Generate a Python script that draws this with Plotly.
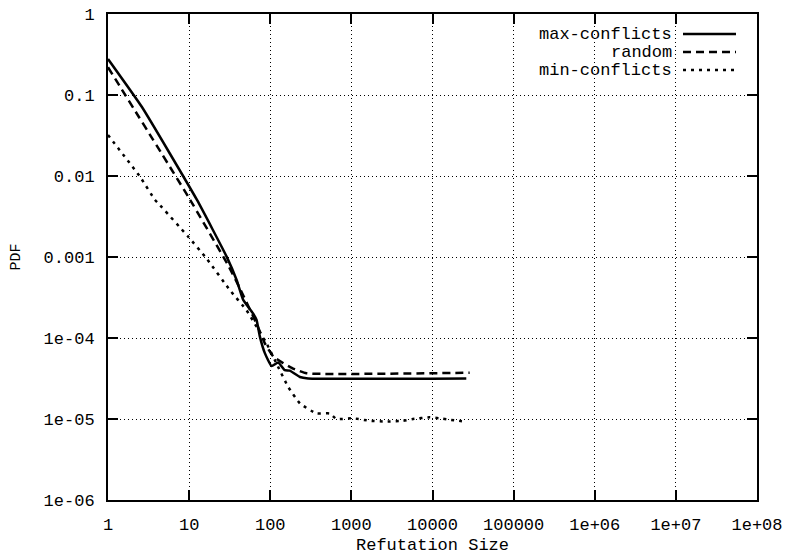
import plotly.graph_objects as go

# ---- data ----
max_x = [1, 2.62, 12.5, 29, 38.5, 46.4, 61.6, 67.8, 74.5, 85.8, 104, 125, 151, 174, 232, 293, 26100]
max_y = [0.278, 0.071, 0.00506, 0.00101, 5.2e-4, 2.95e-4, 2.0e-4, 1.67e-4, 1.04e-4, 6.5e-5, 4.5e-5, 5.0e-5, 4.0e-5, 3.95e-5, 3.3e-5, 3.17e-5, 3.17e-5]

rand_x = [1, 9.75, 30.3, 42.2, 67.8, 85.8, 109, 144, 191, 280, 28700]
rand_y = [0.22, 0.00556, 7.9e-4, 4.1e-4, 1.5e-4, 8.6e-5, 5.9e-5, 4.9e-5, 4.2e-5, 3.67e-5, 3.73e-5]

min_x = [1, 2.48, 3.8, 4.17, 9.75, 16.4, 31.8, 51, 67.8, 90, 125, 166, 232, 372, 540, 655, 1050, 1690, 2700,
         4350, 5750, 9240, 12300, 16300, 25000]
min_y = [0.032, 0.0098, 0.00506, 0.0046, 0.00178, 9.6e-4, 3.9e-4, 2.2e-4, 1.38e-4, 8.6e-5, 4.4e-5, 2.5e-5,
         1.56e-5, 1.17e-5, 1.17e-5, 1.0e-5, 1.02e-5, 9.5e-6, 9.3e-6, 9.5e-6, 1.0e-5, 1.05e-5, 1.02e-5, 9.8e-6, 9.3e-6]

series_names = ["max-conflicts", "random", "min-conflicts"]

x_tickvals = [1, 10, 100, 1000, 10000, 100000, 1e6, 1e7, 1e8]
x_ticktext = ["1", "10", "100", "1000", "10000", "100000", "1e+06", "1e+07", "1e+08"]
y_tickvals = [1e-6, 1e-5, 1e-4, 1e-3, 1e-2, 1e-1, 1]
y_ticktext = ["1e-06", "1e-05", "1e-04", "0.001", "0.01", "0.1", "1"]

FONT = "Liberation Mono, Courier New, monospace"

x_minor = [m * 10 ** d for d in range(8) for m in (2, 5, 8)]
y_minor = [m * 10 ** d for d in range(-6, 0) for m in (2, 5, 8)]

dashes = ["solid", "8px,5px", "3px,5px"]
data = [(max_x, max_y), (rand_x, rand_y), (min_x, min_y)]

fig = go.Figure()
for (xs, ys), name, dash in zip(data, series_names, dashes):
    fig.add_trace(go.Scatter(x=xs, y=ys, mode="lines", name=name,
                             line=dict(color="black", width=2.5, dash=dash, shape="spline", smoothing=0.4)))

axis_common = dict(
    type="log", showline=True, linecolor="black", linewidth=2, mirror="ticks",
    ticks="inside", ticklen=10, tickwidth=1.5, tickcolor="black",
    showgrid=True, gridcolor="black", gridwidth=1, griddash="1px,3px",
    zeroline=False, tickmode="array", automargin=False,
    tickfont=dict(family=FONT, size=17, color="black"),
)

minor_common = dict(
    type="log", showline=False, showgrid=False, zeroline=False, showticklabels=False,
    ticks="inside", ticklen=5, tickwidth=1.5, tickcolor="black", tickmode="array", automargin=False,
)

fig.update_layout(
    xaxis=dict(**axis_common, range=[0, 8], tickvals=x_tickvals, ticktext=x_ticktext,
               title=dict(text="Refutation Size", font=dict(family=FONT, size=17, color="black"), standoff=8),
               ticklabelstandoff=8),
    yaxis=dict(**axis_common, range=[-6, 0], tickvals=y_tickvals, ticktext=y_ticktext,
               title=dict(text="PDF", font=dict(family=FONT, size=15, color="black"), standoff=19),
               ticklabelstandoff=8),
    xaxis2=dict(**minor_common, range=[0, 8], tickvals=x_minor, overlaying="x", anchor="y", side="bottom"),
    xaxis3=dict(**minor_common, range=[0, 8], tickvals=x_minor, overlaying="x", anchor="y", side="top"),
    yaxis2=dict(**minor_common, range=[-6, 0], tickvals=y_minor, overlaying="y", anchor="x", side="left"),
    yaxis3=dict(**minor_common, range=[-6, 0], tickvals=y_minor, overlaying="y", anchor="x", side="right"),
)

# manual gnuplot-style legend (text right-aligned, sample line to the right)
W, H, L, T = 649, 486, 108, 14
rows_y = [34, 52, 70]
for name, dash, py in zip(series_names, dashes, rows_y):
    yp = 1 - (py - T) / H
    fig.add_annotation(x=(673 - L) / W, y=yp, xref="paper", yref="paper", text=name,
                       showarrow=False, xanchor="right", yanchor="middle", height=16, borderpad=0,
                       font=dict(family=FONT, size=17, color="black"))
    fig.add_shape(type="line", xref="paper", yref="paper", x0=(683 - L) / W, x1=(736 - L) / W,
                  y0=yp, y1=yp, line=dict(color="black", width=2.5, dash=dash))

fig.update_layout(
    width=790, height=555, showlegend=False,
    margin=dict(l=108, r=33, t=14, b=55),
    paper_bgcolor="white", plot_bgcolor="white",
    font=dict(family=FONT, size=17, color="black"),
)

fig.write_html("out.html")
